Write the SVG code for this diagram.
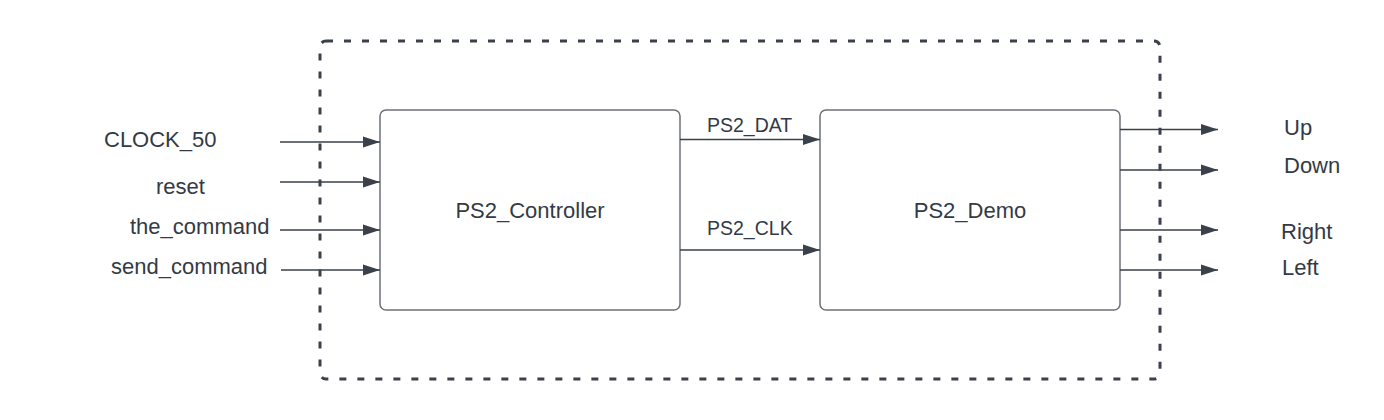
<svg xmlns="http://www.w3.org/2000/svg" width="1384" height="420" viewBox="0 0 1384 420">
<style>
  .lbl { font-family: "Liberation Sans", Arial, sans-serif; font-size: 22px; fill: #333a45; }
  .sig { font-family: "Liberation Sans", Arial, sans-serif; font-size: 19.5px; fill: #333a45; }
  .box { fill: #ffffff; stroke: #6e7277; stroke-width: 1.5; }
  .wire { stroke: #3a414a; stroke-width: 1.3; fill: none; marker-end: url(#arr); }
  .bound { fill: none; stroke: #3a414a; stroke-width: 3; stroke-dasharray: 7 11; }
</style>
<defs>
  <marker id="arr" markerUnits="userSpaceOnUse" markerWidth="18" markerHeight="12" refX="17" refY="6" orient="auto">
    <path d="M0,0.5 L17,6 L0,11.5 Z" fill="#3a414a"/>
  </marker>
</defs>
<rect width="1384" height="420" fill="#ffffff"/>
<g id="boundary">
  <rect class="bound" x="320" y="41" width="840" height="338" rx="6" ry="6"/>
</g>
<g id="ps2_controller">
  <rect class="box" x="380" y="110" width="300" height="200" rx="6" ry="6"/>
  <text class="lbl" x="530" y="218" text-anchor="middle">PS2_Controller</text>
</g>
<g id="ps2_demo">
  <rect class="box" x="820" y="110" width="300" height="200" rx="6" ry="6"/>
  <text class="lbl" x="970" y="218" text-anchor="middle">PS2_Demo</text>
</g>
<g id="connectors">
  <line class="wire" x1="280" y1="142" x2="380" y2="142"/>
  <line class="wire" x1="280" y1="182" x2="380" y2="182"/>
  <line class="wire" x1="280" y1="230" x2="380" y2="230"/>
  <line class="wire" x1="281" y1="270" x2="380" y2="270"/>
  <line class="wire" x1="680" y1="139.5" x2="820" y2="139.5"/>
  <line class="wire" x1="680" y1="250" x2="820" y2="250"/>
  <line class="wire" x1="1120" y1="129.5" x2="1218" y2="129.5"/>
  <line class="wire" x1="1120" y1="170" x2="1218" y2="170"/>
  <line class="wire" x1="1120" y1="230" x2="1218" y2="230"/>
  <line class="wire" x1="1120" y1="270" x2="1218" y2="270"/>
</g>
<g id="labels">
  <text class="lbl" x="104" y="147">CLOCK_50</text>
  <text class="lbl" x="156" y="194">reset</text>
  <text class="lbl" x="130" y="234">the_command</text>
  <text class="lbl" x="111" y="274">send_command</text>
  <text class="sig" x="707" y="131.5">PS2_DAT</text>
  <text class="sig" x="707" y="235">PS2_CLK</text>
  <text class="lbl" x="1284" y="135">Up</text>
  <text class="lbl" x="1284" y="173">Down</text>
  <text class="lbl" x="1281" y="239">Right</text>
  <text class="lbl" x="1282" y="275">Left</text>
</g>
</svg>
